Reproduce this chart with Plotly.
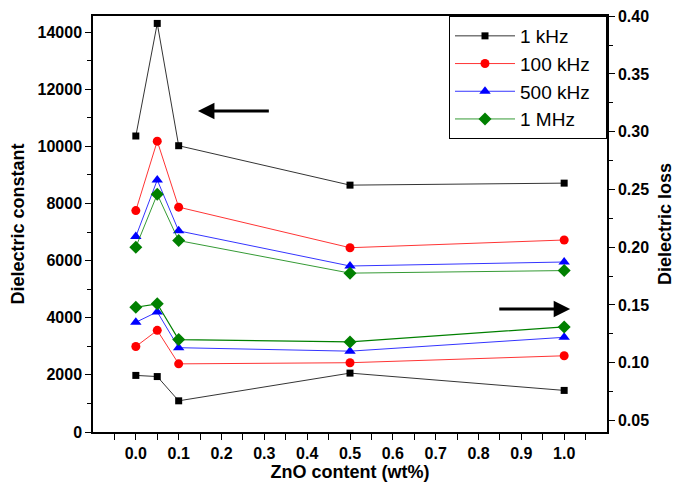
import plotly.graph_objects as go

zno = [0.0, 0.05, 0.1, 0.5, 1.0]
series_names = ["1 kHz", "100 kHz", "500 kHz", "1 MHz"]
colors = ["#000000", "#ff0000", "#0000ff", "#008000"]
symbols = ["square", "circle", "triangle-up", "diamond"]
marker_sizes = [7, 9, 10, 10]

const_1khz = [10360, 14300, 10020, 8640, 8710]
const_100khz = [7750, 10180, 7870, 6450, 6720]
const_500khz = [6840, 8820, 7040, 5810, 5950]
const_1mhz = [6470, 8320, 6700, 5560, 5650]

loss_1khz = [0.089, 0.088, 0.067, 0.091, 0.076]
loss_100khz = [0.114, 0.128, 0.099, 0.100, 0.106]
loss_500khz = [0.135, 0.144, 0.113, 0.110, 0.122]
loss_1mhz = [0.148, 0.151, 0.120, 0.118, 0.131]

x_ticks = [0.0, 0.1, 0.2, 0.3, 0.4, 0.5, 0.6, 0.7, 0.8, 0.9, 1.0]
x_tick_labels = ["0.0", "0.1", "0.2", "0.3", "0.4", "0.5", "0.6", "0.7", "0.8", "0.9", "1.0"]
y_ticks = [0, 2000, 4000, 6000, 8000, 10000, 12000, 14000]
y_tick_labels = ["0", "2000", "4000", "6000", "8000", "10000", "12000", "14000"]
y2_ticks = [0.05, 0.10, 0.15, 0.20, 0.25, 0.30, 0.35, 0.40]
y2_tick_labels = ["0.05", "0.10", "0.15", "0.20", "0.25", "0.30", "0.35", "0.40"]

consts = [const_1khz, const_100khz, const_500khz, const_1mhz]
losses = [loss_1khz, loss_100khz, loss_500khz, loss_1mhz]

FONT = "Arial, Liberation Sans, sans-serif"
PAD = "\u00a0\u00a0"

def bold(labels):
    return ["<b>" + s + "</b>" for s in labels]

fig = go.Figure()
for i, name in enumerate(series_names):
    fig.add_trace(go.Scatter(
        x=zno, y=consts[i], name=name + PAD, mode="lines+markers", legendgroup=name,
        line=dict(color=colors[i], width=0.8),
        marker=dict(symbol=symbols[i], size=marker_sizes[i], color=colors[i]),
        yaxis="y"))
for i, name in enumerate(series_names):
    fig.add_trace(go.Scatter(
        x=zno, y=losses[i], name=name, mode="lines+markers", legendgroup=name,
        showlegend=False,
        line=dict(color=colors[i], width=0.8 if i < 3 else 1.2),
        marker=dict(symbol=symbols[i], size=marker_sizes[i], color=colors[i]),
        yaxis="y2"))

axis_common = dict(showline=True, linecolor="black", linewidth=1.5, ticks="outside",
                   tickcolor="black", ticklen=6, tickwidth=1.2, showgrid=False, zeroline=False,
                   automargin=False, ticklabeloverflow="allow",
                   tickfont=dict(family=FONT, size=16, color="black"))
title_font = dict(family=FONT, size=18, color="black")

fig.update_layout(
    width=685, height=492,
    margin=dict(l=85, r=86, t=8, b=68),
    paper_bgcolor="white", plot_bgcolor="white",
    font=dict(family=FONT, color="black"),
    xaxis=dict(range=[-0.1, 1.1], tickvals=x_ticks, ticktext=bold(x_tick_labels), mirror=True,
               minor=dict(tickvals=[-0.05, 0.05, 0.15, 0.25, 0.35, 0.45, 0.55, 0.65, 0.75, 0.85, 0.95, 1.05],
                          ticks="outside", ticklen=6, tickcolor="black", tickwidth=1.2),
               title=dict(text="<b>ZnO content (wt%)</b>", font=title_font, standoff=4),
               **axis_common),
    yaxis=dict(range=[0, 14560], tickvals=y_ticks, ticktext=bold(y_tick_labels),
               minor=dict(dtick=1000, ticks="outside", ticklen=4, tickcolor="black", tickwidth=1.2),
               title=dict(text="<b>Dielectric constant</b>", font=title_font, standoff=10),
               **axis_common),
    yaxis2=dict(range=[0.04, 0.4002], tickvals=y2_ticks, ticktext=bold(y2_tick_labels),
                overlaying="y", side="right",
                minor=dict(dtick=0.025, tick0=0.05, ticks="outside", ticklen=4, tickcolor="black", tickwidth=1.2),
                title=dict(text="<b>Dielectric loss</b>", font=title_font, standoff=10),
                **axis_common),
    legend=dict(x=1, y=1, xanchor="right", yanchor="top", bordercolor="black", borderwidth=1,
                bgcolor="white", font=dict(family=FONT, size=19, color="black"),
                itemwidth=60, tracegroupgap=0),
    showlegend=True,
)

fig.add_annotation(x=0.145, y=11235, ax=0.314, ay=11235, xref="x", yref="y", axref="x", ayref="y",
                   text="", showarrow=True, arrowhead=2, arrowsize=1.1, arrowwidth=3, arrowcolor="black")
fig.add_annotation(x=1.014, y=0.1464, ax=0.845, ay=0.1464, xref="x", yref="y2", axref="x", ayref="y2",
                   text="", showarrow=True, arrowhead=2, arrowsize=1.1, arrowwidth=3, arrowcolor="black")

fig.write_html("out.html")
